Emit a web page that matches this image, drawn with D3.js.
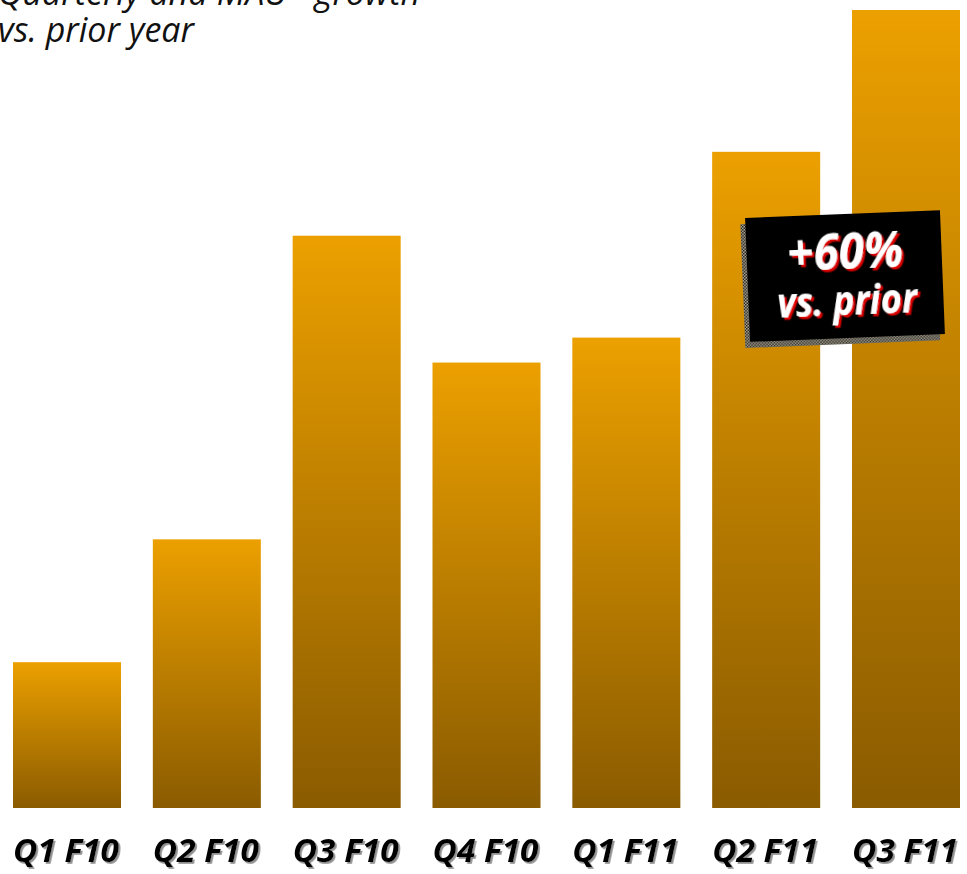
<!DOCTYPE html>
<html>
<head>
<meta charset="utf-8">
<script src="https://cdn.jsdelivr.net/npm/d3@7"></script>
<style>
  html, body { margin: 0; padding: 0; background: #fff; }
  svg { display: block; }
</style>
</head>
<body>
<svg id="chart" width="967" height="874"></svg>
<script>
// Quarterly values (indexed units) per fiscal quarter
const quarters = ["Q1 F10", "Q2 F10", "Q3 F10", "Q4 F10", "Q1 F11", "Q2 F11", "Q3 F11"];
const values = [14.6, 26.9, 57.3, 44.6, 47.1, 65.7, 79.9];
const titleLines = ["Quarterly and MAU* growth", "vs. prior year"];
const calloutLines = ["+60%", "vs. prior"];

const svg = d3.select("#chart");
const W = 967, H = 874;
const margin = { left: 13, right: 7, top: 9, bottom: 66 };

const x = d3.scaleBand()
  .domain(quarters)
  .range([margin.left, W - margin.right])
  .paddingInner(0.2276)
  .paddingOuter(0);

const y = d3.scaleLinear()
  .domain([0, 80])
  .range([H - margin.bottom, margin.top]);

const defs = svg.append("defs");
const grad = defs.append("linearGradient")
  .attr("id", "barGrad")
  .attr("x1", 0).attr("y1", 0).attr("x2", 0).attr("y2", 1);
grad.append("stop").attr("offset", "0%").attr("stop-color", "#eca000");
grad.append("stop").attr("offset", "100%").attr("stop-color", "#8a5b00");

// dotted shadow texture for the callout
const pat = defs.append("pattern")
  .attr("id", "dots")
  .attr("width", 3).attr("height", 3)
  .attr("patternUnits", "userSpaceOnUse");
pat.append("rect").attr("width", 3).attr("height", 3).attr("fill", "#b7b09a");
pat.append("rect").attr("width", 1.5).attr("height", 1.5).attr("fill", "#1a1a1a");
pat.append("rect").attr("x", 1.5).attr("y", 1.5).attr("width", 1.5).attr("height", 1.5).attr("fill", "#1a1a1a");

// text shadows
defs.append("filter").attr("id", "greyShadow")
  .append("feDropShadow")
  .attr("dx", 1.8).attr("dy", 1.8).attr("stdDeviation", 0.4)
  .attr("flood-color", "#8f8f8f").attr("flood-opacity", 1);
defs.append("filter").attr("id", "redShadow")
  .append("feDropShadow")
  .attr("dx", 2.5).attr("dy", 2.5).attr("stdDeviation", 0.3)
  .attr("flood-color", "#e00000").attr("flood-opacity", 1);

// title (partially above the frame)
const title = svg.append("g").attr("font-family", "'Open Sans', sans-serif")
  .attr("font-style", "italic").attr("font-size", 34).attr("fill", "#111");
titleLines.forEach((t, i) => {
  title.append("text").attr("x", -2).attr("y", 5 + i * 37).text(t);
});

// bars
svg.append("g").selectAll("rect")
  .data(values)
  .join("rect")
  .attr("x", (d, i) => x(quarters[i]))
  .attr("y", d => y(d))
  .attr("width", x.bandwidth())
  .attr("height", d => y(0) - y(d))
  .attr("fill", "url(#barGrad)");

// category labels
const xAxis = d3.axisBottom(x).tickSize(0).tickPadding(0);
const axisG = svg.append("g")
  .attr("transform", `translate(0,${y(0)})`)
  .call(xAxis);
axisG.select(".domain").remove();
axisG.selectAll(".tick text")
  .attr("dy", null)
  .attr("y", 54)
  .attr("x", -1)
  .attr("text-anchor", "middle")
  .attr("font-family", "'Open Sans', sans-serif")
  .attr("font-weight", 700)
  .attr("font-style", "italic")
  .attr("font-size", 33)
  .attr("textLength", 106)
  .attr("lengthAdjust", "spacingAndGlyphs")
  .attr("fill", "#000")
  .attr("filter", "url(#greyShadow)");

// callout box
const cx = 845, cy = 276, bw = 195, bh = 124;
const callout = svg.append("g")
  .attr("transform", `rotate(-2.3, ${cx}, ${cy})`);
callout.append("rect")
  .attr("x", cx - bw / 2 - 5).attr("y", cy - bh / 2 + 6)
  .attr("width", bw).attr("height", bh)
  .attr("fill", "url(#dots)");
callout.append("rect")
  .attr("x", cx - bw / 2).attr("y", cy - bh / 2)
  .attr("width", bw).attr("height", bh)
  .attr("fill", "#000");
const cFont = [50, 41];
const cY = [cy - 7, cy + 39];
const cLen = [116, 140];
calloutLines.forEach((t, i) => {
  callout.append("text")
    .attr("x", cx + 1)
    .attr("y", cY[i])
    .attr("text-anchor", "middle")
    .attr("font-family", "'Open Sans', sans-serif")
    .attr("font-weight", 700)
    .attr("font-style", "italic")
    .attr("font-size", cFont[i])
    .attr("textLength", cLen[i])
    .attr("lengthAdjust", "spacingAndGlyphs")
    .attr("fill", "#fff")
    .attr("filter", "url(#redShadow)")
    .text(t);
});
</script>
</body>
</html>
